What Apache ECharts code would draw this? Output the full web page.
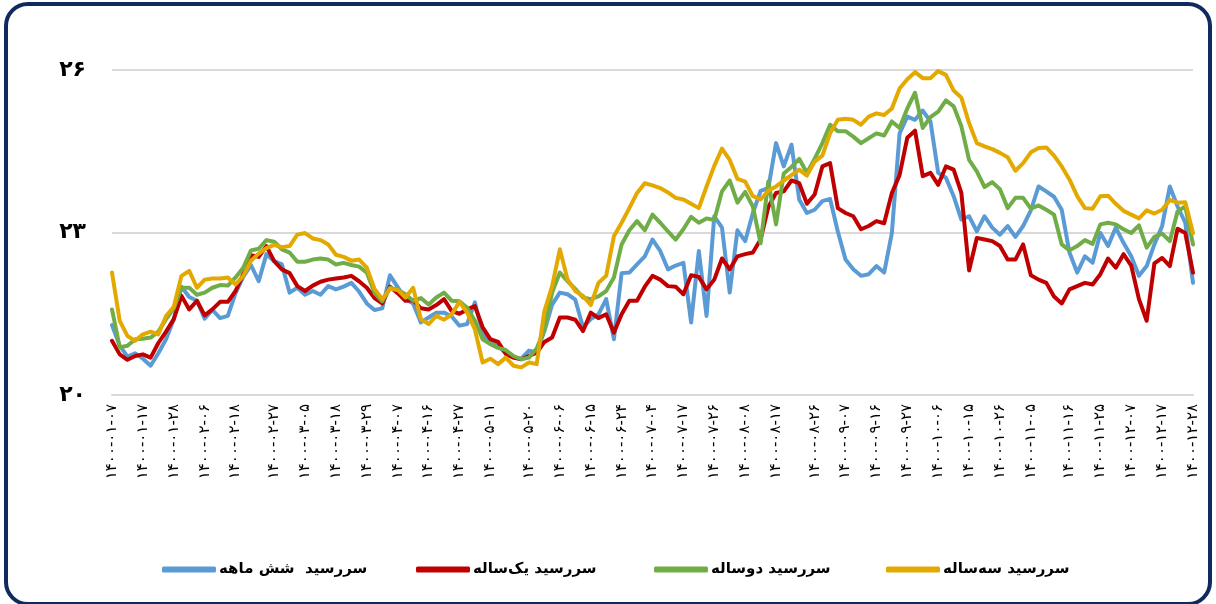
<!DOCTYPE html>
<html lang="fa">

<head>
    <meta charset="utf-8">
    <title>نرخ سررسیدها</title>
    <style>
        * {
            margin: 0;
            padding: 0;
        }

        body {
            width: 1216px;
            height: 604px;
            background: #fff;
            overflow: hidden;
            position: relative;
        }

        #chart-container {
            position: absolute;
            left: 0;
            top: 0;
            width: 1216px;
            height: 604px;
        }

        #frame {
            position: absolute;
            left: 4px;
            top: 2px;
            width: 1200px;
            height: 596px;
            border: 4px solid #10295e;
            border-radius: 24px;
            pointer-events: none;
        }
    </style>
</head>

<body>
    <div id="chart-container"></div>
    <div id="frame"></div>
    <script src="https://cdn.jsdelivr.net/npm/echarts@6/dist/echarts.min.js"></script>
    <script>
        // tick labels on the date axis (every ~10 days)
        var dateLabels = [
            '۱۴۰۰-۰۱-۰۷', '۱۴۰۰-۰۱-۱۷', '۱۴۰۰-۰۱-۲۸', '۱۴۰۰-۰۲-۰۶', '۱۴۰۰-۰۲-۱۸',
            '۱۴۰۰-۰۲-۲۷', '۱۴۰۰-۰۳-۰۵', '۱۴۰۰-۰۳-۱۸', '۱۴۰۰-۰۳-۲۹', '۱۴۰۰-۰۴-۰۷',
            '۱۴۰۰-۰۴-۱۶', '۱۴۰۰-۰۴-۲۷', '۱۴۰۰-۰۵-۱۱', '۱۴۰۰-۰۵-۲۰', '۱۴۰۰-۰۶-۰۶',
            '۱۴۰۰-۰۶-۱۵', '۱۴۰۰-۰۶-۲۴', '۱۴۰۰-۰۷-۰۴', '۱۴۰۰-۰۷-۱۷', '۱۴۰۰-۰۷-۲۶',
            '۱۴۰۰-۰۸-۰۸', '۱۴۰۰-۰۸-۱۷', '۱۴۰۰-۰۸-۲۶', '۱۴۰۰-۰۹-۰۷', '۱۴۰۰-۰۹-۱۶',
            '۱۴۰۰-۰۹-۲۷', '۱۴۰۰-۱۰-۰۶', '۱۴۰۰-۱۰-۱۵', '۱۴۰۰-۱۰-۲۶', '۱۴۰۰-۱۱-۰۵',
            '۱۴۰۰-۱۱-۱۶', '۱۴۰۰-۱۱-۲۵', '۱۴۰۰-۱۲-۰۷', '۱۴۰۰-۱۲-۱۷', '۱۴۰۰-۱۲-۲۸'
        ];

        var seriesNames = ['سررسید  شش ماهه', 'سررسید یک‌ساله', 'سررسید دوساله', 'سررسید سه‌ساله'];
        var seriesColors = ['#5b9bd5', '#c00000', '#70ad47', '#e3a900'];

        var sixMonth = [
            21.29, 20.91, 20.71, 20.77, 20.67, 20.54, 20.77, 21.03, 21.40, 22.00,
            21.81, 21.74, 21.41, 21.57, 21.42, 21.46, 21.88, 22.18, 22.40, 22.10,
            22.60, 22.47, 22.41, 21.89, 21.98, 21.85, 21.92, 21.85, 22.01, 21.95,
            22.00, 22.07, 21.91, 21.69, 21.57, 21.60, 22.21, 21.99, 21.77, 21.69,
            21.34, 21.43, 21.52, 21.52, 21.45, 21.28, 21.31, 21.71, 21.13, 20.98,
            20.91, 20.77, 20.69, 20.67, 20.82, 20.79, 21.18, 21.67, 21.89, 21.86,
            21.76, 21.25, 21.40, 21.49, 21.77, 21.03, 22.25, 22.26, 22.41, 22.56,
            22.87, 22.66, 22.32, 22.39, 22.44, 21.34, 22.66, 21.46, 23.30, 23.09,
            21.89, 23.04, 22.84, 23.36, 23.77, 23.82, 24.65, 24.22, 24.62, 23.61,
            23.36, 23.42, 23.58, 23.62, 23.02, 22.50, 22.32, 22.20, 22.23, 22.38,
            22.26, 22.99, 24.83, 25.14, 25.08, 25.25, 25.05, 24.10, 24.01, 23.67,
            23.24, 23.30, 23.02, 23.30, 23.09, 22.96, 23.12, 22.92, 23.12, 23.41,
            23.85, 23.76, 23.66, 23.42, 22.63, 22.26, 22.56, 22.44, 22.99, 22.75,
            23.09, 22.81, 22.56, 22.20, 22.38, 22.78, 23.12, 23.85, 23.48, 23.18,
            22.07
        ];

        var oneYear = [
            21.00, 20.75, 20.65, 20.72, 20.75, 20.69, 20.96, 21.17, 21.40, 21.83,
            21.58, 21.74, 21.47, 21.58, 21.72, 21.72, 21.92, 22.23, 22.58, 22.55,
            22.75, 22.47, 22.32, 22.25, 22.01, 21.92, 22.02, 22.09, 22.13, 22.15,
            22.17, 22.20, 22.10, 21.98, 21.79, 21.69, 22.00, 21.88, 21.74, 21.75,
            21.60, 21.58, 21.66, 21.77, 21.55, 21.50, 21.58, 21.64, 21.25, 21.03,
            20.98, 20.76, 20.69, 20.66, 20.72, 20.78, 20.98, 21.06, 21.43, 21.43,
            21.39, 21.18, 21.52, 21.42, 21.49, 21.15, 21.49, 21.74, 21.74, 22.00,
            22.20, 22.13, 22.01, 22.00, 21.86, 22.21, 22.18, 21.95, 22.13, 22.52,
            22.32, 22.56, 22.60, 22.63, 22.87, 23.47, 23.73, 23.76, 23.96, 23.91,
            23.53, 23.70, 24.22, 24.28, 23.45, 23.36, 23.30, 23.06, 23.12, 23.21,
            23.17, 23.73, 24.06, 24.75, 24.88, 24.04, 24.10, 23.88, 24.22, 24.16,
            23.73, 22.30, 22.90, 22.87, 22.84, 22.75, 22.50, 22.50, 22.78, 22.21,
            22.13, 22.07, 21.82, 21.69, 21.95, 22.01, 22.07, 22.04, 22.23, 22.52,
            22.35, 22.60, 22.39, 21.77, 21.37, 22.43, 22.53, 22.38, 23.07, 22.99,
            22.26
        ];

        var twoYear = [
            21.58, 20.88, 20.91, 21.03, 21.04, 21.06, 21.17, 21.40, 21.60, 21.98,
            21.98, 21.85, 21.89, 21.98, 22.03, 22.02, 22.17, 22.35, 22.67, 22.70,
            22.86, 22.83, 22.69, 22.63, 22.46, 22.46, 22.50, 22.52, 22.50, 22.41,
            22.44, 22.40, 22.37, 22.26, 21.88, 21.73, 21.98, 21.94, 21.86, 21.74,
            21.79, 21.67, 21.80, 21.89, 21.74, 21.73, 21.61, 21.37, 21.03, 20.94,
            20.87, 20.83, 20.72, 20.66, 20.69, 20.86, 21.21, 21.89, 22.26, 22.10,
            21.96, 21.80, 21.77, 21.82, 21.92, 22.17, 22.78, 23.04, 23.21, 23.04,
            23.33, 23.18, 23.02, 22.87, 23.06, 23.29, 23.18, 23.26, 23.23, 23.76,
            23.96, 23.55, 23.75, 23.48, 22.80, 23.94, 23.15, 24.09, 24.21, 24.36,
            24.10, 24.36, 24.65, 24.99, 24.87, 24.87, 24.77, 24.65, 24.74, 24.83,
            24.79, 25.05, 24.93, 25.29, 25.58, 24.93, 25.13, 25.23, 25.44, 25.33,
            24.96, 24.34, 24.13, 23.84, 23.93, 23.80, 23.45, 23.64, 23.64, 23.44,
            23.50, 23.42, 23.33, 22.78, 22.67, 22.75, 22.86, 22.79, 23.15, 23.18,
            23.15, 23.06, 22.99, 23.13, 22.72, 22.92, 22.98, 22.84, 23.39, 23.48,
            22.78
        ];

        var threeYear = [
            22.26, 21.37, 21.09, 21.00, 21.12, 21.17, 21.12, 21.46, 21.63, 22.20,
            22.29, 21.98, 22.13, 22.15, 22.15, 22.17, 22.04, 22.20, 22.48, 22.61,
            22.71, 22.77, 22.73, 22.75, 22.96, 22.99, 22.89, 22.86, 22.78, 22.59,
            22.55, 22.48, 22.50, 22.35, 21.96, 21.77, 21.96, 21.94, 21.80, 21.98,
            21.40, 21.31, 21.46, 21.39, 21.49, 21.72, 21.52, 21.21, 20.60, 20.67,
            20.57, 20.69, 20.54, 20.51, 20.60, 20.57, 21.55, 22.01, 22.69, 22.13,
            21.92, 21.83, 21.66, 22.07, 22.20, 22.93, 23.18, 23.45, 23.73, 23.91,
            23.87, 23.82, 23.74, 23.64, 23.61, 23.53, 23.45, 23.85, 24.23, 24.55,
            24.34, 23.99, 23.94, 23.67, 23.61, 23.77, 23.85, 23.96, 24.06, 24.16,
            24.05, 24.31, 24.42, 24.83, 25.08, 25.10, 25.08, 24.99, 25.14, 25.20,
            25.17, 25.29, 25.66, 25.83, 25.96, 25.85, 25.85, 25.98, 25.91, 25.62,
            25.49, 25.02, 24.65, 24.59, 24.54, 24.47, 24.39, 24.14, 24.28, 24.48,
            24.56, 24.57, 24.42, 24.22, 23.98, 23.67, 23.45, 23.44, 23.67, 23.68,
            23.53, 23.40, 23.33, 23.26, 23.41, 23.35, 23.42, 23.60, 23.55, 23.56,
            22.99
        ];

        var allSeries = [sixMonth, oneYear, twoYear, threeYear];

        var faDigits = '۰۱۲۳۴۵۶۷۸۹';
        function toFa(s) {
            return String(s).replace(/\d/g, function (d) { return faDigits[d]; });
        }

        // spread the date labels evenly over the points
        var n = sixMonth.length;
        var labelAt = {};
        dateLabels.forEach(function (lab, k) {
            labelAt[Math.round(k * (n - 1) / (dateLabels.length - 1))] = lab;
        });
        var categories = sixMonth.map(function (v, i) { return String(i); });

        var dom = document.getElementById('chart-container');
        var myChart = echarts.init(dom, null, { renderer: 'canvas' });

        // one legend box per item so each sits where the original has it
        var legendLeft = [157, 411, 649, 881];
        var legends = seriesNames.map(function (name, k) {
            return {
                data: [name],
                left: legendLeft[k],
                bottom: 22,
                itemWidth: 54,
                itemHeight: 6,
                itemGap: 0,
                icon: 'roundRect',
                textStyle: {
                    fontSize: 15,
                    fontWeight: 'bold',
                    color: '#000',
                    fontFamily: 'DejaVu Sans',
                    padding: [0, 0, 0, -2]
                }
            };
        });

        var option = {
            animation: false,
            textStyle: { fontFamily: 'DejaVu Sans' },
            grid: {
                left: 112,
                right: 23,
                top: 70,
                bottom: 209
            },
            legend: legends,
            xAxis: {
                type: 'category',
                boundaryGap: false,
                data: categories,
                axisLine: { show: true, lineStyle: { color: '#d9d9d9', width: 2 } },
                axisTick: { show: false },
                axisLabel: {
                    rotate: 90,
                    margin: 9,
                    fontSize: 15,
                    color: '#000',
                    hideOverlap: false,
                    interval: function (idx) { return labelAt[idx] !== undefined; },
                    formatter: function (val, idx) { return labelAt[idx] || ''; }
                },
                splitLine: { show: false }
            },
            yAxis: {
                type: 'value',
                min: 20,
                max: 26,
                interval: 3,
                axisLine: { show: false },
                axisTick: { show: false },
                axisLabel: {
                    margin: 26,
                    fontSize: 22,
                    fontWeight: 'bold',
                    color: '#000',
                    formatter: function (v) { return toFa(v); }
                },
                splitLine: { lineStyle: { color: '#d9d9d9', width: 2 } }
            },
            series: seriesNames.map(function (name, k) {
                return {
                    name: name,
                    type: 'line',
                    data: allSeries[k],
                    symbol: 'none',
                    color: seriesColors[k],
                    lineStyle: { width: 4, color: seriesColors[k], join: 'round', cap: 'round' }
                };
            })
        };

        myChart.setOption(option);
        window.addEventListener('resize', myChart.resize);
    </script>
</body>

</html>
